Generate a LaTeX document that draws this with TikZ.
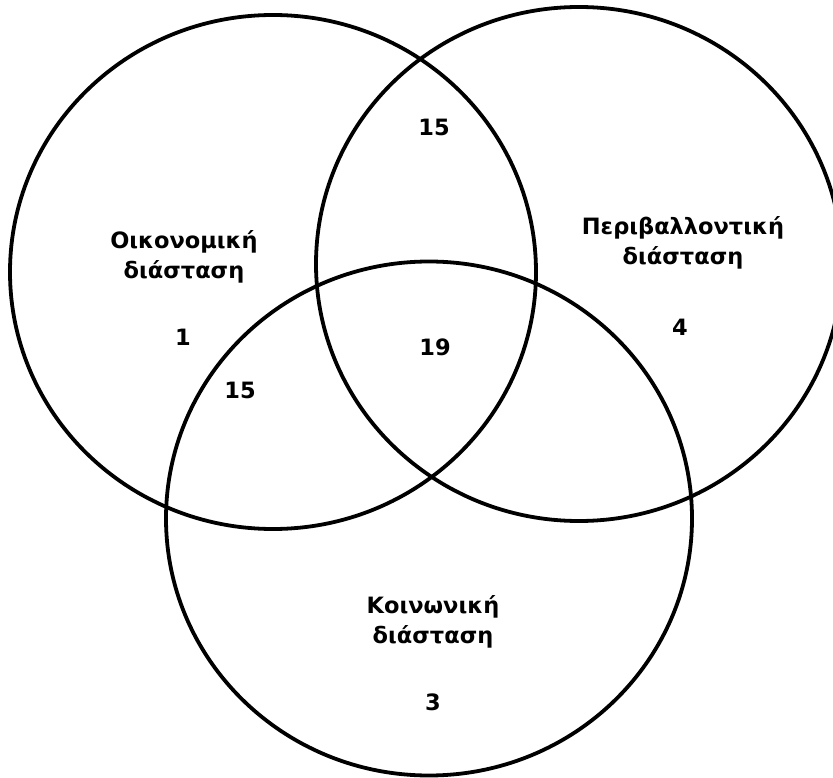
\documentclass[tikz,border=0pt]{standalone}
\usepackage{fontspec}
\setmainfont{DejaVu Sans}
\begin{document}
\begin{tikzpicture}[x=1pt,y=-1pt,
  setring/.style={draw=black,line width=3.8pt,x radius=263,y radius=257},
  caption/.style={font=\fontsize{22.5}{30}\selectfont\bfseries,align=center,inner sep=0pt},
  count/.style={font=\fontsize{22.5}{30}\selectfont\bfseries,inner sep=0pt}]
  \useasboundingbox (0,0) rectangle (833,778);
  \clip (0,0) rectangle (833,778);
  % three overlapping sets
  \draw[setring] (273,272) ellipse [];
  \draw[setring] (579,264) ellipse [];
  \draw[setring] (429,518.5) ellipse [];
  % set names
  \node[caption] (econ) at (184,257) {Οικονομική\\διάσταση};
  \node[caption] (envir) at (683,243) {Περιβαλλοντική\\διάσταση};
  \node[caption] (soc) at (433,622) {Κοινωνική\\διάσταση};
  % region counts
  \node[count] (nE) at (183,337) {1};
  \node[count] (nR) at (680,327) {4};
  \node[count] (nS) at (433,702) {3};
  \node[count] (nER) at (434,127) {15};
  \node[count] (nES) at (240,390) {15};
  \node[count] (nAll) at (435,347) {19};
\end{tikzpicture}
\end{document}
